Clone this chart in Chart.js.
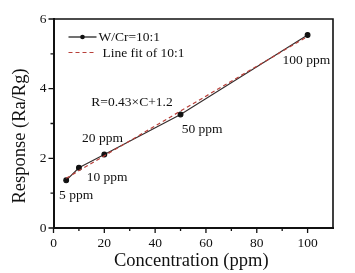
<!DOCTYPE html>
<html>
<head>
<meta charset="utf-8">
<script src="https://cdn.jsdelivr.net/npm/chart.js@4/dist/chart.umd.min.js"></script>
<style>
  html, body { margin: 0; padding: 0; background: #fff; }
  #wrap { width: 355px; height: 273px; }
</style>
</head>
<body>
<div id="wrap"><canvas id="c"></canvas></div>
<script>
// measured data, W/Cr = 10:1
const concPpm   = [5, 10, 20, 50, 100];
const response  = [1.37, 1.73, 2.11, 3.26, 5.54];
// linear fit end points
const fitX      = [5, 100];
const fitY      = [1.43, 5.50];
const xMajor    = [0, 20, 40, 60, 80, 100];
const xMinor    = [10, 30, 50, 70, 90];
const yMajor    = [0, 2, 4, 6];
const yMinor    = [1, 3, 5];
const legendTxt = ['W/Cr=10:1', 'Line fit of 10:1'];
const notes     = ['5 ppm', '10 ppm', '20 ppm', '50 ppm', '100 ppm', 'R=0.43\u00d7C+1.2'];
const noteX     = [8.9, 21.1, 19.3, 58.5, 99.5, 30.9];
const noteY     = [0.93, 1.45, 2.57, 2.83, 4.81, 3.61];

const SERIF = '"Liberation Serif", "DejaVu Serif", serif';
const INK   = '#111';
const FIT   = '#b8403a';

const decor = {
  id: 'decor',
  afterDraw(chart) {
    const { ctx, chartArea: a, scales } = chart;
    const sx = scales.x, sy = scales.y;
    ctx.save();
    // frame top/right
    ctx.strokeStyle = INK;
    ctx.lineWidth = 1.6;
    ctx.beginPath();
    ctx.moveTo(a.left, a.top); ctx.lineTo(a.right, a.top); ctx.lineTo(a.right, a.bottom);
    ctx.stroke();
    // ticks
    ctx.lineWidth = 1.3;
    ctx.beginPath();
    xMajor.forEach(v => { const p = sx.getPixelForValue(v); ctx.moveTo(p, a.bottom); ctx.lineTo(p, a.bottom + 5); });
    xMinor.forEach(v => { const p = sx.getPixelForValue(v); ctx.moveTo(p, a.bottom); ctx.lineTo(p, a.bottom + 3); });
    yMajor.forEach(v => { const p = sy.getPixelForValue(v); ctx.moveTo(a.left, p); ctx.lineTo(a.left - 5, p); });
    yMinor.forEach(v => { const p = sy.getPixelForValue(v); ctx.moveTo(a.left, p); ctx.lineTo(a.left - 3, p); });
    ctx.stroke();

    // annotations
    ctx.fillStyle = INK;
    ctx.font = `13.5px ${SERIF}`;
    ctx.textAlign = 'center';
    ctx.textBaseline = 'middle';
    notes.forEach((t, k) => {
      ctx.fillText(t, sx.getPixelForValue(noteX[k]), sy.getPixelForValue(noteY[k]));
    });

    // legend
    const lx0 = a.left + 15, lx1 = a.left + 43, ly = [a.top + 18, a.top + 33.5];
    ctx.strokeStyle = INK; ctx.lineWidth = 1.2;
    ctx.beginPath(); ctx.moveTo(lx0, ly[0]); ctx.lineTo(lx1, ly[0]); ctx.stroke();
    ctx.beginPath(); ctx.arc((lx0 + lx1) / 2, ly[0], 2.3, 0, Math.PI * 2); ctx.fill();
    ctx.strokeStyle = FIT; ctx.setLineDash([4, 3]);
    ctx.beginPath(); ctx.moveTo(lx0, ly[1]); ctx.lineTo(lx1, ly[1]); ctx.stroke();
    ctx.setLineDash([]);
    ctx.textAlign = 'left';
    ctx.fillText(legendTxt[0], lx1 + 2, ly[0] + 0.5);
    ctx.fillText(legendTxt[1], lx1 + 6, ly[1] + 0.5);

    // axis titles
    ctx.font = `18.5px ${SERIF}`;
    ctx.textAlign = 'center';
    ctx.fillText('Concentration (ppm)', (a.left + a.right) / 2 - 2, 261);
    ctx.translate(20, 136);
    ctx.rotate(-Math.PI / 2);
    ctx.fillText('Response (Ra/Rg)', 0, 0);
    ctx.restore();
  }
};

new Chart(document.getElementById('c'), {
  type: 'scatter',
  data: {
    datasets: [
      {
        label: legendTxt[1],
        data: fitX.map((x, k) => ({ x, y: fitY[k] })),
        showLine: true,
        borderColor: FIT,
        borderWidth: 1.2,
        borderDash: [4, 3],
        pointRadius: 0,
        fill: false,
      },
      {
        label: legendTxt[0],
        data: concPpm.map((x, k) => ({ x, y: response[k] })),
        showLine: true,
        borderColor: 'rgba(30,20,20,0.9)',
        borderWidth: 1.1,
        pointRadius: 2.4,
        pointBackgroundColor: INK,
        pointBorderColor: INK,
        fill: false,
      },
    ],
  },
  options: {
    responsive: true,
    maintainAspectRatio: false,
    animation: false,
    layout: { padding: { left: 0, top: 19, right: 22, bottom: 0 } },
    plugins: { legend: { display: false }, tooltip: { enabled: false } },
    scales: {
      x: {
        type: 'linear', min: 0, max: 110,
        afterFit: (s) => { s.height = 45; },
        afterBuildTicks: (s) => { s.ticks = xMajor.map(v => ({ value: v })); },
        grid: { display: false, drawTicks: false },
        border: { display: true, color: INK, width: 2 },
        ticks: {
          autoSkip: false, padding: 7, color: INK, maxRotation: 0,
          font: { family: SERIF, size: 13.5 },
        },
      },
      y: {
        type: 'linear', min: 0, max: 6,
        afterFit: (s) => { s.width = 53.5; },
        afterBuildTicks: (s) => { s.ticks = yMajor.map(v => ({ value: v })); },
        grid: { display: false, drawTicks: false },
        border: { display: true, color: INK, width: 2 },
        ticks: {
          autoSkip: false, padding: 7, color: INK,
          font: { family: SERIF, size: 13.5 },
        },
      },
    },
  },
  plugins: [decor],
});
</script>
</body>
</html>
